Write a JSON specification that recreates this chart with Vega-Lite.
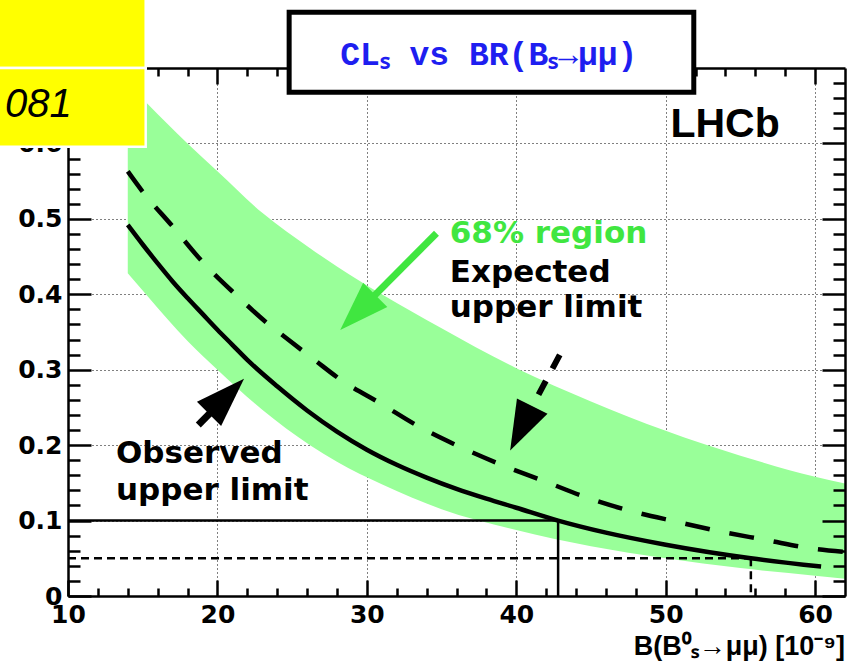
{
  "$schema": "https://vega.github.io/schema/vega-lite/v6.json",
  "width": 777,
  "height": 528,
  "autosize": {"type": "none"},
  "padding": {"left": 68, "top": 68, "right": 11, "bottom": 74},
  "background": "white",
  "config": {
    "view": {"stroke": null},
    "axis": {"domainColor": "black", "tickColor": "black", "labelColor": "black", "gridColor": "black", "gridOpacity": 1, "title": null}
  },
  "datasets": {
    "band": [
      {"x": 14, "lo": 0.428, "hi": 0.68},
      {"x": 15.3, "lo": 0.398, "hi": 0.653},
      {"x": 18, "lo": 0.338, "hi": 0.6},
      {"x": 20, "lo": 0.3, "hi": 0.563},
      {"x": 23, "lo": 0.247, "hi": 0.508},
      {"x": 26.2, "lo": 0.2, "hi": 0.461},
      {"x": 28, "lo": 0.178, "hi": 0.437},
      {"x": 31, "lo": 0.148, "hi": 0.4},
      {"x": 35, "lo": 0.115, "hi": 0.355},
      {"x": 40, "lo": 0.0875, "hi": 0.302},
      {"x": 45, "lo": 0.066, "hi": 0.258},
      {"x": 50, "lo": 0.05, "hi": 0.219},
      {"x": 55, "lo": 0.037, "hi": 0.186},
      {"x": 60, "lo": 0.027, "hi": 0.158},
      {"x": 62, "lo": 0.023, "hi": 0.149}
    ],
    "obs": [
      {"x": 14, "v": 0.492}, {"x": 15, "v": 0.466}, {"x": 16, "v": 0.441}, {"x": 17, "v": 0.417},
      {"x": 18, "v": 0.395}, {"x": 19, "v": 0.374}, {"x": 20, "v": 0.353}, {"x": 21, "v": 0.333},
      {"x": 22, "v": 0.313}, {"x": 24, "v": 0.278}, {"x": 26, "v": 0.246}, {"x": 28, "v": 0.218},
      {"x": 30, "v": 0.194}, {"x": 32, "v": 0.174}, {"x": 34, "v": 0.157}, {"x": 36, "v": 0.142},
      {"x": 38, "v": 0.129}, {"x": 40, "v": 0.117}, {"x": 42.8, "v": 0.1}, {"x": 46, "v": 0.084},
      {"x": 50, "v": 0.068}, {"x": 55.7, "v": 0.05}, {"x": 60.4, "v": 0.039}
    ],
    "exp": [
      {"x": 14, "v": 0.563}, {"x": 15, "v": 0.536}, {"x": 17, "v": 0.49}, {"x": 19, "v": 0.443},
      {"x": 21.2, "v": 0.4}, {"x": 23.5, "v": 0.359}, {"x": 24.6, "v": 0.342}, {"x": 26.5, "v": 0.313},
      {"x": 28.3, "v": 0.286}, {"x": 30.9, "v": 0.2555}, {"x": 33.5, "v": 0.2245}, {"x": 36.2, "v": 0.198},
      {"x": 39, "v": 0.174}, {"x": 41.9, "v": 0.152}, {"x": 44.8, "v": 0.13}, {"x": 47.8, "v": 0.112},
      {"x": 50.7, "v": 0.0986}, {"x": 53.7, "v": 0.0853}, {"x": 56.7, "v": 0.0743}, {"x": 59.7, "v": 0.0632},
      {"x": 62, "v": 0.0585}
    ],
    "limH90": [{"x1": 10, "x2": 42.8, "y": 0.1}],
    "limV90": [{"x": 42.8, "y1": 0, "y2": 0.1}],
    "limH95": [{"x1": 10, "x2": 55.7, "y": 0.05}],
    "limV95": [{"x": 55.7, "y1": 0, "y2": 0.05}],
    "greenText": [{"x": 35.55, "y": 0.468, "t": "68% region"}],
    "blackText": [
      {"x": 35.55, "y": 0.4164, "t": "Expected"},
      {"x": 35.55, "y": 0.37, "t": "upper limit"},
      {"x": 13.21, "y": 0.1764, "t": "Observed"},
      {"x": 13.21, "y": 0.1273, "t": "upper limit"}
    ],
    "greenShaft": [{"x1": 34.66, "y1": 0.481, "x2": 29.39, "y2": 0.376}],
    "greenHead": [{"x": 29.39, "y": 0.376}],
    "obsShaft": [{"x1": 18.72, "y1": 0.2268, "x2": 20.61, "y2": 0.2647}],
    "obsHead": [{"x": 20.61, "y": 0.2647}],
    "expShaft": [{"x1": 42.91, "y1": 0.3196, "x2": 41.06, "y2": 0.2511}],
    "expHead": [{"x": 40.33, "y": 0.2223}],
    "titleBox": [{"x1": 24.8, "x2": 51.88, "y1": 0.6678, "y2": 0.7739}],
    "titleText": [{"x": 38.16, "y": 0.7042, "t": "CLₛ vs BR(Bₛ→μμ)"}],
    "yellow": [
      {"x1": 4, "x2": 15.2, "y1": 0.7, "y2": 0.8},
      {"x1": 4, "x2": 15.2, "y1": 0.5956, "y2": 0.7}
    ],
    "yellowText": [{"x": 5.79, "y": 0.6353, "t": "081"}],
    "lhcb": [{"x": 57.63, "y": 0.6088, "t": "LHCb"}],
    "xtitle": [{"x": 62, "y": -0.0782, "t": "B(B⁰ₛ→μμ) [10⁻⁹]"}]
  },
  "layer": [
    {
      "data": {"name": "band"},
      "mark": {"type": "area", "color": "#99ff99", "interpolate": "monotone", "opacity": 1},
      "encoding": {
        "x": {"field": "x", "type": "quantitative", "scale": {"domain": [10, 62], "nice": false, "zero": false},
          "axis": {"orient": "bottom", "values": [10, 20, 30, 40, 50, 60], "grid": true, "gridDash": [1, 3], "gridWidth": 1,
            "domain": true, "domainWidth": 2.5, "ticks": false, "labels": true, "labelFont": "DejaVu Sans", "labelFontWeight": "bold",
            "labelFontSize": 25, "labelPadding": 6, "labelFlush": false, "labelOverlap": false, "zindex": 0}},
        "y": {"field": "hi", "type": "quantitative", "scale": {"domain": [0, 0.7], "nice": false, "zero": false},
          "axis": {"orient": "left", "values": [0, 0.1, 0.2, 0.3, 0.4, 0.5, 0.6], "grid": true, "gridDash": [1, 3], "gridWidth": 1,
            "domain": true, "domainWidth": 2.5, "ticks": false, "labels": true, "labelFont": "DejaVu Sans", "labelFontWeight": "bold",
            "labelExpr": "datum.value == 0 ? '0' : format(datum.value, '.1f')",
            "labelFontSize": 25, "labelPadding": 6, "labelFlush": false, "labelOverlap": false, "zindex": 0}},
        "y2": {"field": "lo"}
      }
    },
    {
      "data": {"name": "obs"},
      "mark": {"type": "line", "color": "black", "strokeWidth": 4.5, "interpolate": "monotone"},
      "encoding": {
        "x": {"field": "x", "type": "quantitative", "scale": {"domain": [10, 62], "nice": false, "zero": false},
          "axis": {"orient": "bottom", "values": [10, 20, 30, 40, 50, 60], "grid": false, "domain": false, "labels": false,
            "ticks": true, "tickSize": 16, "offset": -16, "tickWidth": 2.5, "zindex": 0}},
        "y": {"field": "v", "type": "quantitative", "scale": {"domain": [0, 0.7], "nice": false, "zero": false},
          "axis": {"orient": "left", "values": [0, 0.1, 0.2, 0.3, 0.4, 0.5, 0.6], "grid": false, "domain": false, "labels": false,
            "ticks": true, "tickSize": 23, "offset": -23, "tickWidth": 2.5, "zindex": 0}}
      }
    },
    {
      "data": {"name": "exp"},
      "mark": {"type": "line", "color": "black", "strokeWidth": 4.5, "strokeDash": [25, 20], "interpolate": "monotone"},
      "encoding": {
        "x": {"field": "x", "type": "quantitative", "scale": {"domain": [10, 62], "nice": false, "zero": false},
          "axis": {"orient": "bottom", "values": [12, 14, 16, 18, 22, 24, 26, 28, 32, 34, 36, 38, 42, 44, 46, 48, 52, 54, 56, 58],
            "grid": false, "domain": false, "labels": false, "ticks": true, "tickSize": 8, "offset": -8, "tickWidth": 2.5, "zindex": 0}},
        "y": {"field": "v", "type": "quantitative", "scale": {"domain": [0, 0.7], "nice": false, "zero": false},
          "axis": {"orient": "left", "values": [0.02, 0.04, 0.06, 0.08, 0.12, 0.14, 0.16, 0.18, 0.22, 0.24, 0.26, 0.28, 0.32, 0.34, 0.36, 0.38, 0.42, 0.44, 0.46, 0.48, 0.52, 0.54, 0.56, 0.58, 0.62, 0.64, 0.66, 0.68],
            "grid": false, "domain": false, "labels": false, "ticks": true, "tickSize": 12, "offset": -12, "tickWidth": 2.5, "zindex": 0}}
      }
    },
    {
      "data": {"name": "limH90"},
      "mark": {"type": "rule", "color": "black", "strokeWidth": 2.5},
      "encoding": {
        "x": {"field": "x1", "type": "quantitative", "scale": {"domain": [10, 62], "nice": false, "zero": false},
          "axis": {"orient": "top", "values": [10, 20, 30, 40, 50, 60], "grid": false, "domain": false, "labels": false,
            "ticks": true, "tickSize": 16, "offset": -16, "tickWidth": 2.5, "zindex": 0}},
        "x2": {"field": "x2"},
        "y": {"field": "y", "type": "quantitative", "scale": {"domain": [0, 0.7], "nice": false, "zero": false},
          "axis": {"orient": "right", "values": [0, 0.1, 0.2, 0.3, 0.4, 0.5, 0.6], "grid": false, "domain": false, "labels": false,
            "ticks": true, "tickSize": 23, "offset": -23, "tickWidth": 2.5, "zindex": 1}}
      }
    },
    {
      "data": {"name": "limV90"},
      "mark": {"type": "rule", "color": "black", "strokeWidth": 2.5},
      "encoding": {
        "x": {"field": "x", "type": "quantitative", "scale": {"domain": [10, 62], "nice": false, "zero": false},
          "axis": {"orient": "top", "values": [12, 14, 16, 18, 22, 24, 26, 28, 32, 34, 36, 38, 42, 44, 46, 48, 52, 54, 56, 58],
            "grid": false, "domain": false, "labels": false, "ticks": true, "tickSize": 8, "offset": -8, "tickWidth": 2.5, "zindex": 0}},
        "y": {"field": "y1", "type": "quantitative", "scale": {"domain": [0, 0.7], "nice": false, "zero": false},
          "axis": {"orient": "right", "values": [0.02, 0.04, 0.06, 0.08, 0.12, 0.14, 0.16, 0.18, 0.22, 0.24, 0.26, 0.28, 0.32, 0.34, 0.36, 0.38, 0.42, 0.44, 0.46, 0.48, 0.52, 0.54, 0.56, 0.58, 0.62, 0.64, 0.66, 0.68],
            "grid": false, "domain": false, "labels": false, "ticks": true, "tickSize": 12, "offset": -12, "tickWidth": 2.5, "zindex": 1}},
        "y2": {"field": "y2"}
      }
    },
    {
      "data": {"name": "limH95"},
      "mark": {"type": "rule", "color": "black", "strokeWidth": 2.5, "strokeDash": [8, 5]},
      "encoding": {
        "x": {"field": "x1", "type": "quantitative", "scale": {"domain": [10, 62], "nice": false, "zero": false},
          "axis": {"orient": "top", "grid": false, "domain": true, "domainWidth": 2.5, "labels": false, "ticks": false, "zindex": 0}},
        "x2": {"field": "x2"},
        "y": {"field": "y", "type": "quantitative", "scale": {"domain": [0, 0.7], "nice": false, "zero": false},
          "axis": {"orient": "right", "grid": false, "domain": true, "domainWidth": 2.5, "labels": false, "ticks": false, "zindex": 1}}
      }
    },
    {
      "data": {"name": "limV95"},
      "mark": {"type": "rule", "color": "black", "strokeWidth": 2.5, "strokeDash": [8, 5]},
      "encoding": {
        "x": {"field": "x", "type": "quantitative", "scale": {"domain": [10, 62], "nice": false, "zero": false}, "axis": null},
        "y": {"field": "y2", "type": "quantitative", "scale": {"domain": [0, 0.7], "nice": false, "zero": false}, "axis": null},
        "y2": {"field": "y1"}
      }
    },
    {
      "data": {"name": "greenText"},
      "mark": {"type": "text", "align": "left", "baseline": "alphabetic", "font": "DejaVu Sans", "fontWeight": "bold", "fontSize": 31, "color": "#40e640"},
      "encoding": {
        "x": {"field": "x", "type": "quantitative", "scale": {"domain": [10, 62], "nice": false, "zero": false}, "axis": null},
        "y": {"field": "y", "type": "quantitative", "scale": {"domain": [0, 0.7], "nice": false, "zero": false}, "axis": null},
        "text": {"field": "t"}
      }
    },
    {
      "data": {"name": "blackText"},
      "mark": {"type": "text", "align": "left", "baseline": "alphabetic", "font": "DejaVu Sans", "fontWeight": "bold", "fontSize": 31, "color": "black"},
      "encoding": {
        "x": {"field": "x", "type": "quantitative", "scale": {"domain": [10, 62], "nice": false, "zero": false}, "axis": null},
        "y": {"field": "y", "type": "quantitative", "scale": {"domain": [0, 0.7], "nice": false, "zero": false}, "axis": null},
        "text": {"field": "t"}
      }
    },
    {
      "data": {"name": "greenShaft"},
      "mark": {"type": "rule", "color": "#40e640", "strokeWidth": 7},
      "encoding": {
        "x": {"field": "x1", "type": "quantitative", "scale": {"domain": [10, 62], "nice": false, "zero": false}, "axis": null},
        "y": {"field": "y1", "type": "quantitative", "scale": {"domain": [0, 0.7], "nice": false, "zero": false}, "axis": null},
        "x2": {"field": "x2"}, "y2": {"field": "y2"}
      }
    },
    {
      "data": {"name": "greenHead"},
      "mark": {"type": "point", "shape": "M0,-1L-0.69,1L0.69,1Z", "filled": true, "size": 2450, "angle": 225, "color": "#40e640", "opacity": 1, "strokeWidth": 0},
      "encoding": {
        "x": {"field": "x", "type": "quantitative", "scale": {"domain": [10, 62], "nice": false, "zero": false}, "axis": null},
        "y": {"field": "y", "type": "quantitative", "scale": {"domain": [0, 0.7], "nice": false, "zero": false}, "axis": null}
      }
    },
    {
      "data": {"name": "obsShaft"},
      "mark": {"type": "rule", "color": "black", "strokeWidth": 7},
      "encoding": {
        "x": {"field": "x1", "type": "quantitative", "scale": {"domain": [10, 62], "nice": false, "zero": false}, "axis": null},
        "y": {"field": "y1", "type": "quantitative", "scale": {"domain": [0, 0.7], "nice": false, "zero": false}, "axis": null},
        "x2": {"field": "x2"}, "y2": {"field": "y2"}
      }
    },
    {
      "data": {"name": "obsHead"},
      "mark": {"type": "point", "shape": "M0,-1L-0.69,1L0.69,1Z", "filled": true, "size": 2450, "angle": 45, "color": "black", "opacity": 1, "strokeWidth": 0},
      "encoding": {
        "x": {"field": "x", "type": "quantitative", "scale": {"domain": [10, 62], "nice": false, "zero": false}, "axis": null},
        "y": {"field": "y", "type": "quantitative", "scale": {"domain": [0, 0.7], "nice": false, "zero": false}, "axis": null}
      }
    },
    {
      "data": {"name": "expShaft"},
      "mark": {"type": "rule", "color": "black", "strokeWidth": 6, "strokeDash": [15.5, 14]},
      "encoding": {
        "x": {"field": "x1", "type": "quantitative", "scale": {"domain": [10, 62], "nice": false, "zero": false}, "axis": null},
        "y": {"field": "y1", "type": "quantitative", "scale": {"domain": [0, 0.7], "nice": false, "zero": false}, "axis": null},
        "x2": {"field": "x2"}, "y2": {"field": "y2"}
      }
    },
    {
      "data": {"name": "expHead"},
      "mark": {"type": "point", "shape": "M0,-1L-0.69,1L0.69,1Z", "filled": true, "size": 2450, "angle": 206.5, "color": "black", "opacity": 1, "strokeWidth": 0},
      "encoding": {
        "x": {"field": "x", "type": "quantitative", "scale": {"domain": [10, 62], "nice": false, "zero": false}, "axis": null},
        "y": {"field": "y", "type": "quantitative", "scale": {"domain": [0, 0.7], "nice": false, "zero": false}, "axis": null}
      }
    },
    {
      "data": {"name": "titleBox"},
      "mark": {"type": "rect", "fill": "white", "stroke": "black", "strokeWidth": 5},
      "encoding": {
        "x": {"field": "x1", "type": "quantitative", "scale": {"domain": [10, 62], "nice": false, "zero": false}, "axis": null},
        "x2": {"field": "x2"},
        "y": {"field": "y1", "type": "quantitative", "scale": {"domain": [0, 0.7], "nice": false, "zero": false}, "axis": null},
        "y2": {"field": "y2"}
      }
    },
    {
      "data": {"name": "titleText"},
      "mark": {"type": "text", "align": "center", "baseline": "alphabetic", "font": "Liberation Mono", "fontWeight": "bold", "fontSize": 33, "color": "#1e1ef0"},
      "encoding": {
        "x": {"field": "x", "type": "quantitative", "scale": {"domain": [10, 62], "nice": false, "zero": false}, "axis": null},
        "y": {"field": "y", "type": "quantitative", "scale": {"domain": [0, 0.7], "nice": false, "zero": false}, "axis": null},
        "text": {"field": "t"}
      }
    },
    {
      "data": {"name": "lhcb"},
      "mark": {"type": "text", "align": "right", "baseline": "alphabetic", "font": "Liberation Sans", "fontWeight": "bold", "fontSize": 41, "color": "black"},
      "encoding": {
        "x": {"field": "x", "type": "quantitative", "scale": {"domain": [10, 62], "nice": false, "zero": false}, "axis": null},
        "y": {"field": "y", "type": "quantitative", "scale": {"domain": [0, 0.7], "nice": false, "zero": false}, "axis": null},
        "text": {"field": "t"}
      }
    },
    {
      "data": {"name": "xtitle"},
      "mark": {"type": "text", "align": "right", "baseline": "alphabetic", "font": "Liberation Sans", "fontWeight": "bold", "fontSize": 27, "color": "black"},
      "encoding": {
        "x": {"field": "x", "type": "quantitative", "scale": {"domain": [10, 62], "nice": false, "zero": false}, "axis": null},
        "y": {"field": "y", "type": "quantitative", "scale": {"domain": [0, 0.7], "nice": false, "zero": false}, "axis": null},
        "text": {"field": "t"}
      }
    },
    {
      "data": {"name": "yellow"},
      "mark": {"type": "rect", "fill": "#ffff00", "stroke": "white", "strokeWidth": 2.5},
      "encoding": {
        "x": {"field": "x1", "type": "quantitative", "scale": {"domain": [10, 62], "nice": false, "zero": false}, "axis": null},
        "x2": {"field": "x2"},
        "y": {"field": "y1", "type": "quantitative", "scale": {"domain": [0, 0.7], "nice": false, "zero": false}, "axis": null},
        "y2": {"field": "y2"}
      }
    },
    {
      "data": {"name": "yellowText"},
      "mark": {"type": "text", "align": "left", "baseline": "alphabetic", "font": "Liberation Sans", "fontStyle": "italic", "fontSize": 40, "color": "black"},
      "encoding": {
        "x": {"field": "x", "type": "quantitative", "scale": {"domain": [10, 62], "nice": false, "zero": false}, "axis": null},
        "y": {"field": "y", "type": "quantitative", "scale": {"domain": [0, 0.7], "nice": false, "zero": false}, "axis": null},
        "text": {"field": "t"}
      }
    }
  ],
  "resolve": {"axis": {"x": "independent", "y": "independent"}}
}
